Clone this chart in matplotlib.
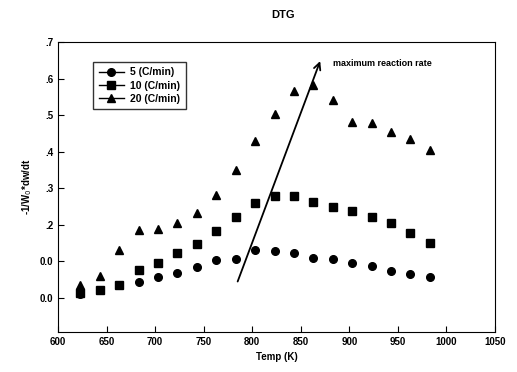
import numpy as np
import matplotlib
matplotlib.use('Agg')
import matplotlib.pyplot as plt

plt.rcParams['font.family'] = ['Liberation Sans', 'DejaVu Sans']

temp = [623, 643, 663, 683, 703, 723, 743, 763, 783, 803,
        823, 843, 863, 883, 903, 923, 943, 963, 983]

rate_5 = [0.012, 0.022, 0.035, 0.043, 0.057, 0.069, 0.086, 0.104, 0.106, 0.131,
          0.129, 0.122, 0.110, 0.106, 0.097, 0.087, 0.075, 0.067, 0.057]
rate_10 = [0.013, 0.023, 0.036, 0.077, 0.095, 0.123, 0.147, 0.183, 0.221, 0.259,
           0.280, 0.280, 0.262, 0.250, 0.237, 0.222, 0.206, 0.177, 0.151]
rate_20 = [0.036, 0.061, 0.132, 0.185, 0.189, 0.205, 0.232, 0.281, 0.351, 0.430,
           0.502, 0.566, 0.582, 0.541, 0.482, 0.479, 0.454, 0.434, 0.406]

yticks = [0.0, 0.1, 0.2, 0.3, 0.4, 0.5, 0.6, 0.7]
ytick_labels = ['0.0', '0.0', '.2', '.3', '.4', '.5', '.6', '.7']
xticks = [600, 650, 700, 750, 800, 850, 900, 950, 1000, 1050]

# arrow marking the maximum reaction rate shift
arrow_start = (784, 0.038)
arrow_end = (871, 0.655)

fig = plt.figure(figsize=(5.17, 3.72), dpi=100)
ax = fig.add_axes([0.1122, 0.1075, 0.8452, 0.7795])

ax.plot(temp, rate_5, 'o', color='black', markersize=5.5, label='5 (C/min)')
ax.plot(temp, rate_10, 's', color='black', markersize=5.5, label='10 (C/min)')
ax.plot(temp, rate_20, '^', color='black', markersize=6, label='20 (C/min)')

ax.annotate('', xy=arrow_end, xytext=arrow_start,
            arrowprops=dict(arrowstyle='->', color='black', lw=1.3,
                            mutation_scale=12))
ax.text(883, 0.641, 'maximum reaction rate', fontsize=6.5, fontweight='bold',
        va='center', ha='left')

ax.set_xlim(600, 1050)
ax.set_ylim(-0.093, 0.7)
ax.set_xticks(xticks)
ax.set_yticks(yticks)
ax.set_yticklabels(ytick_labels)
ax.tick_params(direction='in', labelsize=7, length=4)
for lab in ax.get_xticklabels() + ax.get_yticklabels():
    lab.set_fontweight('bold')

ax.set_xlabel('Temp (K)', fontsize=7, fontweight='bold')
ax.set_ylabel('-1/W$_0$*dw/dt', fontsize=7, fontweight='bold')

fig.text(283 / 517, 1 - 15 / 372, 'DTG', fontsize=8, fontweight='bold',
         ha='center', va='center')

leg = ax.legend(loc='upper left', bbox_to_anchor=(0.08, 0.932),
                borderaxespad=0, frameon=True, fancybox=False,
                edgecolor='black', handlelength=2.4, borderpad=0.55,
                labelspacing=0.3, handletextpad=0.6,
                prop={'weight': 'bold', 'size': 7.5})
leg.get_frame().set_linewidth(1.0)
for h in leg.get_lines():
    h.set_linestyle('-')
    h.set_linewidth(1.0)

fig.savefig('out.png', dpi=100)
